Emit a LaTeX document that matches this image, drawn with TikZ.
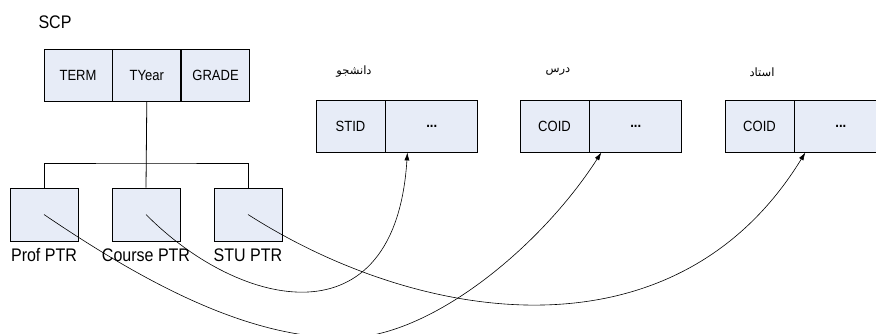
\documentclass[tikz,border=0pt]{standalone}
\usepackage{fontspec}
\setmainfont{Liberation Sans}[FakeStretch=0.88]
\newfontfamily\farsi[Script=Arabic]{DejaVu Sans}
\TeXXeTstate=1
\usepackage{tikz}
\usetikzlibrary{arrows.meta, positioning}
\definecolor{cellblue}{RGB}{231,236,247}
\tikzset{
    cell/.style={rectangle, draw, fill=cellblue, line width=0.8pt, minimum width=68pt,
                 minimum height=52pt, inner sep=0pt, font=\fontsize{14.8}{16}\selectfont},
    keycell/.style={cell, minimum width=69pt},
    dotcell/.style={cell, minimum width=92pt, font=\fontsize{14.8}{16}\selectfont\bfseries},
    ptrbox/.style={cell, minimum height=53pt},
    ptrlbl/.style={font=\fontsize{18.2}{20}\selectfont, inner sep=1pt},
    tbllbl/.style={font=\fontsize{11.5}{13}\selectfont\farsi, inner sep=1pt},
    tree/.style={line width=0.8pt},
    pointer/.style={-{Latex[length=8pt, width=5pt]}, line width=0.6pt},
}

\begin{document}
\begin{tikzpicture}[x=1pt, y=-1pt]

    \clip (0,0) rectangle (876,333);

    % SCP record
    \node[font=\fontsize{18.2}{20}\selectfont] (scp) at (55,22) {SCP};
    \node[cell] (term) at (78,75) {TERM};
    \node[cell, right=0pt of term] (tyear) {TYear};
    \node[cell, right=0pt of tyear] (grade) {GRADE};

    % pointer fields
    \node[ptrbox] (prof) at (44,214.5) {};
    \node[ptrbox] (course) at (146,214.5) {};
    \node[ptrbox] (stu) at (248,214.5) {};
    \node[ptrlbl, below=6pt of prof] (profl) {Prof PTR};
    \node[ptrlbl, below=6pt of course] (coursel) {Course PTR};
    \node[ptrlbl, below=6pt of stu] (stul) {STU PTR};

    % tree lines
    \coordinate (fork) at (146,163);
    \draw[tree] (tyear.south) -- (course.north);
    \draw[tree] (prof.north) |- (fork) -| (stu.north);

    % target tables
    \node[keycell] (stid) at (350.5,126) {STID};
    \node[dotcell, right=0pt of stid] (stdots) {...};
    \node[tbllbl] (stname) at (354,72) {\beginR دانشجو\endR};

    \node[keycell] (coid) at (554.5,126) {COID};
    \node[dotcell, right=0pt of coid] (codots) {...};
    \node[tbllbl] (coname) at (558,72) {\beginR درس\endR};

    \node[keycell] (tcoid) at (759.5,126) {COID};
    \node[dotcell, right=0pt of tcoid] (tcdots) {...};
    \node[tbllbl] (tcname) at (762,72) {\beginR استاد\endR};

    \coordinate (sthit) at ([xshift=22pt]stdots.south west);
    \coordinate (cohit) at ([xshift=12pt]codots.south west);
    \coordinate (tchit) at ([xshift=11pt]tcdots.south west);

    % Course PTR -> student table
    \draw[pointer] (course.center) .. controls +(94,95) and +(-12,192) .. (sthit);

    % STU PTR -> teacher table
    \draw[pointer] (stu.center) .. controls +(172,110) and +(-130,212) .. (tchit);

    % Prof PTR -> course table
    \draw[pointer] (prof.center) .. controls +(106,72) and +(-95,0) .. (345,338)
        .. controls +(85,0) and +(-61,95) .. (cohit);

\end{tikzpicture}
\end{document}
